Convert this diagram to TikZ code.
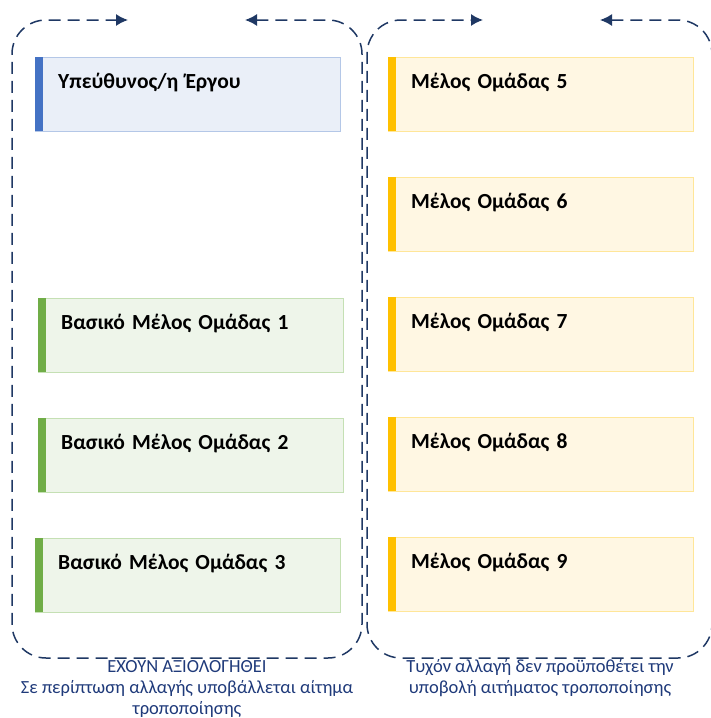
\documentclass[tikz,border=0pt]{standalone}
\usepackage{fontspec}
\setmainfont{Carlito}
\usepackage{tikz}
\usetikzlibrary{arrows.meta, calc}

\definecolor{navy}{HTML}{1F3864}
\definecolor{notecol}{HTML}{1F3A7A}
\definecolor{bluebar}{HTML}{4472C4}
\definecolor{bluefill}{HTML}{EAEFF8}
\definecolor{blueline}{HTML}{B4C7E7}
\definecolor{greenbar}{HTML}{70AD47}
\definecolor{greenfill}{HTML}{EEF5EA}
\definecolor{greenline}{HTML}{C5E0B4}
\definecolor{orangebar}{HTML}{FFC000}
\definecolor{orangefill}{HTML}{FFF7E3}
\definecolor{orangeline}{HTML}{FFE699}

\begin{document}
\begin{tikzpicture}[x=1pt,y=-1pt,
  member/.style={anchor=north west,minimum width=305pt,minimum height=74pt,
    inner xsep=23pt,inner ysep=0pt,text width=259pt,align=left,
    text height=31pt,text depth=43pt,font=\fontsize{21.5}{24}\selectfont\bfseries},
  leadbox/.style={member,fill=bluefill,draw=blueline},
  corebox/.style={member,fill=greenfill,draw=greenline},
  otherbox/.style={member,fill=orangefill,draw=orangeline},
  frame/.style={navy,line width=1.5pt,dash pattern=on 12pt off 7pt,rounded corners=34pt,
    {Latex[length=12pt,width=12pt]}-{Latex[length=12pt,width=12pt]}},
  note/.style={anchor=north,align=center,inner sep=0pt,text=notecol,
    font=\fontsize{18.5}{21}\selectfont}]
\useasboundingbox (0,0) rectangle (710,718);

% frames
\draw[frame] (245,20) -- (362,20) -- (362,658) -- (12,658) -- (12,20) -- (128,20);
\draw[frame] (600,20) -- (712,20) -- (712,658) -- (367,658) -- (367,20) -- (483,20);

% left column
\node[leadbox] (L) at (35,57) {Υπεύθυνος/η Έργου};
\node[corebox] (B1) at (38,298) {Βασικό Μέλος Ομάδας 1};
\node[corebox] (B2) at (38,418) {Βασικό Μέλος Ομάδας 2};
\node[corebox] (B3) at (35,538) {Βασικό Μέλος Ομάδας 3};

% right column
\node[otherbox] (M5) at (388,57) {Μέλος Ομάδας 5};
\node[otherbox] (M6) at (388,177) {Μέλος Ομάδας 6};
\node[otherbox] (M7) at (388,297) {Μέλος Ομάδας 7};
\node[otherbox] (M8) at (388,417) {Μέλος Ομάδας 8};
\node[otherbox] (M9) at (388,537) {Μέλος Ομάδας 9};

% side bars
\fill[bluebar] (L.north west) rectangle ++(8,74);
\foreach \n in {B1,B2,B3} \fill[greenbar] (\n.north west) rectangle ++(8,74);
\foreach \n in {M5,M6,M7,M8,M9} \fill[orangebar] (\n.north west) rectangle ++(8,74);

% notes
\node[note] (NL) at (187,660) {ΕΧΟΥΝ ΑΞΙΟΛΟΓΗΘΕΙ\\Σε περίπτωση αλλαγής υποβάλλεται αίτημα\\τροποποίησης};
\node[note] (NR) at (540,659) {Τυχόν αλλαγή δεν προϋποθέτει την\\υποβολή αιτήματος τροποποίησης};

\end{tikzpicture}
\end{document}
